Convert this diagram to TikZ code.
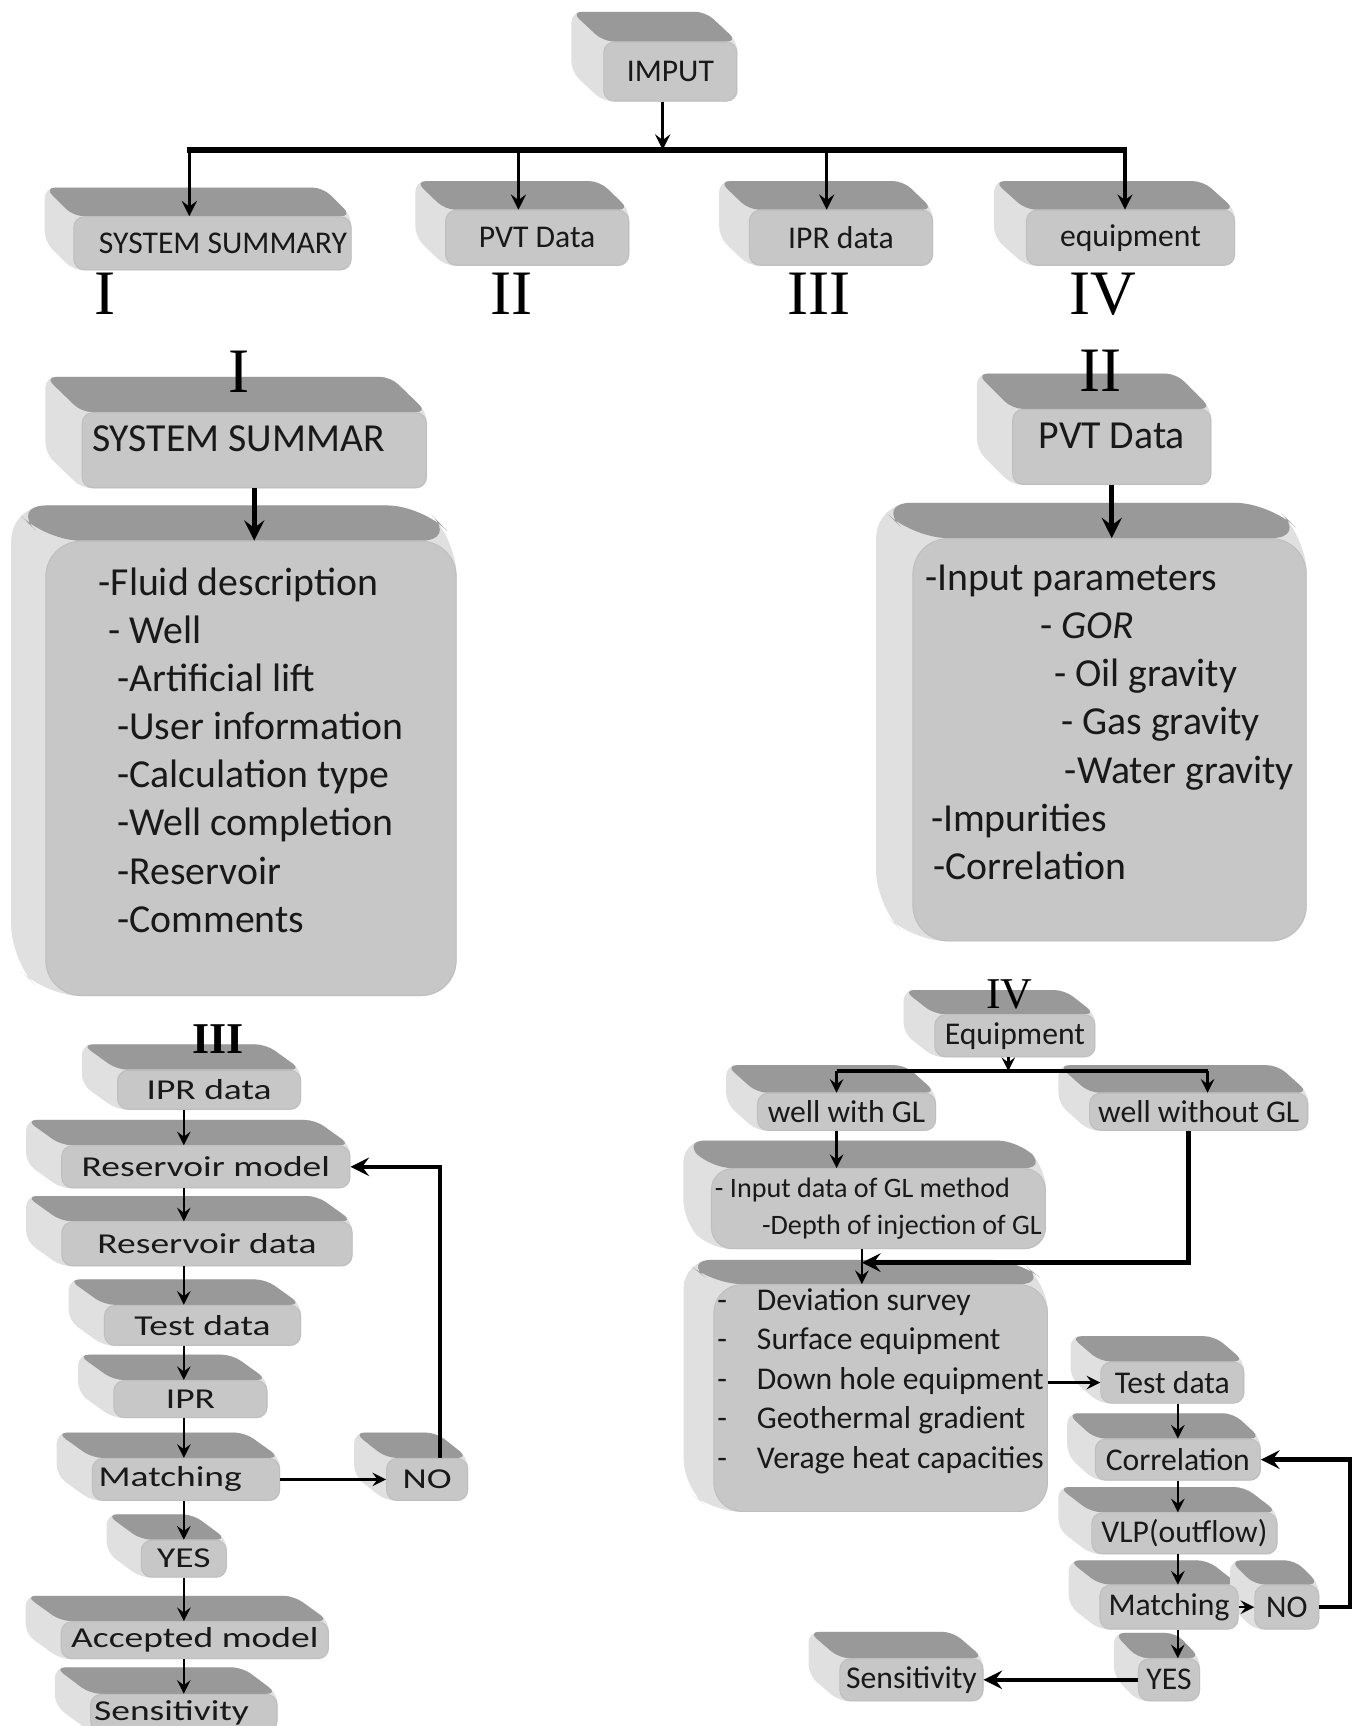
\documentclass[tikz,border=0pt]{standalone}
\usepackage{fontspec}
\setmainfont{Carlito}
\newfontfamily\romfont{Liberation Serif}
\newfontfamily\widefont[FakeStretch=1.3]{Carlito}
\usetikzlibrary{backgrounds}

\begin{document}
\begin{tikzpicture}[>=stealth, x=0.011cm, y=-0.011cm,
    face/.style={fill=black!22, draw=black!25, line width=0.3pt, rounded corners=3pt, inner sep=1pt, text=black!90},
    bigface/.style={face, rounded corners=10pt},
    toptxt/.style={font=\fontsize{9}{11}\selectfont},
    midtxt/.style={font=\fontsize{11.3}{13.7}\selectfont},
    lowtxt/.style={font=\widefont\fontsize{8.2}{10}\selectfont},
    eqtxt/.style={font=\fontsize{9}{11.25}\selectfont},
    rn/.style={font=\romfont\fontsize{18}{20}\selectfont, inner sep=0pt},
    rnsmall/.style={font=\romfont\fontsize{12.5}{14}\selectfont, inner sep=0pt},
    arr/.style={->, line width=0.9pt},
    bus/.style={line width=1.6pt},
    bigarr/.style={->, line width=1.5pt},
    sarr/.style={->, line width=0.7pt},
    lparr/.style={->, line width=1.3pt}]
    \useasboundingbox (0,0) rectangle (1235,1568);
    % input and its four branches
    \node[face, toptxt, minimum width=1.33cm, minimum height=0.59cm] (impt) at (609,65) {IMPUT};
    \node[face, toptxt, minimum width=2.77cm, minimum height=0.53cm] (sysa) at (193,221) {\hspace*{6pt}SYSTEM SUMMARY};
    \node[face, toptxt, minimum width=1.83cm, minimum height=0.55cm] (pvta) at (488,216) {PVT Data};
    \node[face, toptxt, minimum width=1.83cm, minimum height=0.55cm] (ipra) at (764,216) {IPR data};
    \node[face, toptxt, minimum width=2.08cm, minimum height=0.55cm] (eqpa) at (1027,216) {equipment};
    \node[rn] (rma) at (95,267) {I};
    \node[rn] (rmb) at (465,267) {II};
    \node[rn] (rmc) at (744,267) {III};
    \node[rn] (rmd) at (1002,267) {IV};
    \coordinate (bc) at (602,136);
    \coordinate (b1) at (172,136);
    \coordinate (b2) at (471,136);
    \coordinate (b3) at (751,136);
    \coordinate (b4) at (1022,136);
    \draw[arr] (impt.south -| bc) -- (bc);
    \draw[bus] ([xshift=-0.02cm]b1) -- ([xshift=0.02cm]b4);
    \foreach \c/\n in {b1/sysa, b2/pvta, b3/ipra, b4/eqpa} \draw[arr] (\c) -- (\c |- \n.north);
    % I: system summary
    \node[face, midtxt, minimum width=3.44cm, minimum height=0.75cm, text depth=6.8pt] (sysb) at (231,409) {SYSTEM SUMMAR\hspace*{9pt}};
    \node[rn] (rme) at (217,338) {I};
    \node[bigface, midtxt, minimum width=4.10cm, minimum height=4.54cm, align=left] (sysl) at (228,698)
        {-Fluid description\\ \hspace*{2.8pt}- Well\\ \hspace*{5.3pt}-Artificial lift\\ \hspace*{5.3pt}-User information\\
         \hspace*{5.3pt}-Calculation type\\ \hspace*{5.3pt}-Well completion\\ \hspace*{5.3pt}-Reservoir\\ \hspace*{5.3pt}-Comments\\[-3.2pt]};
    \draw[bigarr] (sysb.south) -- (sysb.south |- sysl.north);
    % II: PVT data
    \node[face, midtxt, minimum width=1.98cm, minimum height=0.75cm, text depth=6.2pt] (pvtb) at (1010,406) {PVT Data};
    \node[rn] (rmf) at (1000,337) {II};
    \node[bigface, midtxt, minimum width=3.93cm, minimum height=4.02cm, align=left] (pvtl) at (1008,672)
        {-Input parameters\\ \hspace*{32.8pt}- \textit{GOR}\\ \hspace*{36.6pt}- Oil gravity\\ \hspace*{38.7pt}- Gas gravity\\
         \hspace*{39.7pt}-Water gravity\\ \hspace*{1.6pt}-Impurities\\ \hspace*{2.2pt}-Correlation\\[-3.7pt]};
    \draw[bigarr] (pvtb.south) -- (pvtb.south |- pvtl.north);
    % III: IPR data
    \node[face, lowtxt, minimum width=1.83cm, minimum height=0.39cm] (iprb) at (190,990) {IPR data};
    \node[face, lowtxt, minimum width=2.88cm, minimum height=0.42cm] (resm) at (187,1060) {Reservoir model};
    \node[face, lowtxt, minimum width=2.90cm, minimum height=0.44cm] (resd) at (188,1130) {Reservoir data};
    \node[face, lowtxt, minimum width=1.96cm, minimum height=0.40cm] (tstb) at (184,1204) {Test data};
    \node[face, lowtxt, minimum width=1.53cm, minimum height=0.37cm] (iprc) at (173,1271) {IPR};
    \node[face, lowtxt, minimum width=1.87cm, minimum height=0.42cm] (mtcb) at (169,1344) {Matching\hspace*{9pt}};
    \node[face, lowtxt, minimum width=0.81cm, minimum height=0.42cm] (nob) at (388,1344) {NO};
    \node[face, lowtxt, minimum width=0.85cm, minimum height=0.37cm] (yesb) at (167,1416) {YES};
    \node[face, lowtxt, minimum width=2.67cm, minimum height=0.37cm] (accb) at (177,1490) {Accepted model};
    \node[face, lowtxt, minimum width=1.84cm, minimum height=0.37cm] (senb) at (167,1556) {Sensitivity\hspace*{7pt}};
    \node[rnsmall, font=\romfont\bfseries\fontsize{12.5}{14}\selectfont] (rmg) at (198,944) {III};
    \coordinate (spn) at (167,1000);
    \foreach \a/\b in {iprb/resm, resm/resd, resd/tstb, tstb/iprc, iprc/mtcb, mtcb/yesb, yesb/accb, accb/senb} \draw[sarr] (\a.south -| spn) -- (\b.north -| spn);
    \draw[sarr] (mtcb.east) -- (nob.west);
    \draw[lparr] ([xshift=0.13cm]nob.north) |- (resm.east);
    % IV: equipment
    \node[face, eqtxt, minimum width=1.60cm, minimum height=0.42cm] (eqpb) at (922,941) {Equipment};
    \node[rnsmall] (rmh) at (917,903) {IV};
    \node[face, eqtxt, minimum width=1.78cm, minimum height=0.37cm] (wgl) at (769,1010) {well with GL};
    \node[face, eqtxt, minimum width=2.18cm, minimum height=0.37cm] (wngl) at (1089,1010) {well without GL};
    \node[face, rounded corners=6pt, align=left, font=\fontsize{8}{10.6}\selectfont, minimum width=3.30cm, minimum height=0.80cm] (inpd) at (798,1098)
        {- Input data of GL method\\ \hspace*{13.4pt}-Depth of injection of GL};
    \node[face, eqtxt, rounded corners=8pt, align=left, minimum width=3.30cm, minimum height=2.20cm] (devb) at (800,1270)
        {-\hspace{8.5pt}Deviation survey\\ -\hspace{8.5pt}Surface equipment\\ -\hspace{8.5pt}Down hole equipment\\
         -\hspace{8.5pt}Geothermal gradient\\ -\hspace{8.5pt}Verage heat capacities\\[0pt]};
    \node[face, eqtxt, minimum width=1.43cm, minimum height=0.41cm] (tstc) at (1065,1256) {Test data};
    \node[face, eqtxt, minimum width=1.65cm, minimum height=0.41cm] (corr) at (1070,1326) {Correlation};
    \node[face, eqtxt, minimum width=1.85cm, minimum height=0.41cm] (vlpb) at (1076,1393) {VLP(outflow)};
    \node[face, eqtxt, minimum width=1.38cm, minimum height=0.44cm] (mtcc) at (1062,1460) {Matching};
    \node[face, eqtxt, minimum width=0.64cm, minimum height=0.44cm] (noc) at (1169,1460) {NO};
    \node[face, eqtxt, minimum width=0.61cm, minimum height=0.42cm] (yesc) at (1062,1526) {YES};
    \node[face, eqtxt, minimum width=1.43cm, minimum height=0.42cm] (senc) at (828,1526) {Sensitivity};
    \coordinate (qa) at (916,973);
    \coordinate (qb) at (760,973);
    \coordinate (qc) at (1097,973);
    \coordinate (jn) at (783,1147);
    \coordinate (spr) at (1070,1300);
    \draw[sarr] (eqpb.south -| qa) -- (qa);
    \draw[line width=1pt] (qb) -- (qc);
    \draw[sarr] (qb) -- (qb |- wgl.north);
    \draw[sarr] (qc) -- (qc |- wngl.north);
    \draw[sarr] (wgl.south -| qb) -- (qb |- inpd.north);
    \draw[lparr] ([xshift=-0.1cm]wngl.south) |- (jn);
    \draw[sarr] (inpd.south -| jn) -- (jn |- devb.north);
    \draw[sarr] (devb.east |- tstc.west) -- (tstc.west);
    \foreach \a/\b in {tstc/corr, corr/vlpb, vlpb/mtcc, mtcc/yesc} \draw[sarr] (\a.south -| spr) -- (\b.north -| spr);
    \draw[sarr] (mtcc.east) -- (noc.west);
    \draw[lparr] (noc.east) -- ++(28,0) |- (corr.east);
    \draw[lparr] (yesc.west) -- (senc.east);
    % extruded sides behind the faces
    \begin{scope}[on background layer]
        \fill[white] (0,0) rectangle (1235,1568);
        \foreach \n/\dx/\dy/\rc in {impt/29/27/3, sysa/26/26/3, pvta/27/26/3, ipra/27/26/3, eqpa/29/26/3,
            sysb/33/32/3, sysl/31/32/10, pvtb/32/32/3, pvtl/33/32/10,
            iprb/32/23/3, resm/32/23/3, resd/32/23/3, tstb/32/23/3, iprc/32/23/3, mtcb/32/23/3, nob/29/23/3, yesb/31/23/3, accb/32/23/3, senb/32/24/3,
            eqpb/28/22/3, wgl/28/25/3, wngl/28/25/3, inpd/25/25/6, devb/27/22/8, tstc/27/23/3, corr/25/23/3, vlpb/30/23/3, mtcc/28/22/3, noc/22/22/3, yesc/22/23/3, senc/28/24/3} {
            \fill[black!12, rounded corners=\rc pt] ([shift={(-\dx,-\dy)}]\n.north west) -- ([shift={(-\dx,-\dy)}]\n.north east) -- (\n.north east)
                -- (\n.south east) -- (\n.south west) -- ([shift={(-\dx,-\dy)}]\n.south west) -- cycle;
            \fill[black!40, rounded corners=\rc pt] (\n.north west) -- ([shift={(-\dx,-\dy)}]\n.north west) -- ([shift={(-\dx,-\dy)}]\n.north east) -- (\n.north east) -- cycle;
        }
    \end{scope}
\end{tikzpicture}
\end{document}
